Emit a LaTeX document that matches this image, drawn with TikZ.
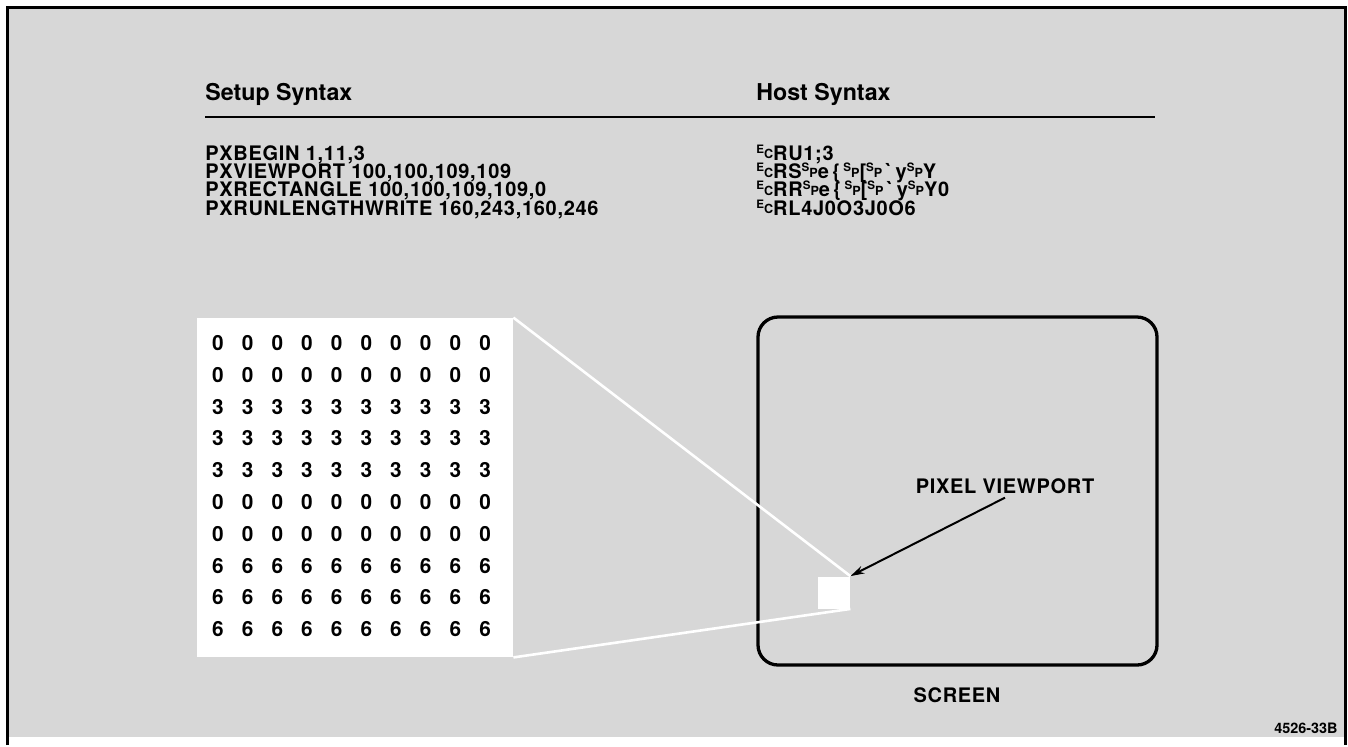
\documentclass[tikz,border=0pt]{standalone}
\usepackage{fontspec}
\setmainfont{TeX Gyre Heros}
\newfontfamily\codefont[LetterSpace=3.5]{TeX Gyre Heros}
\usetikzlibrary{arrows.meta}

\definecolor{bggrey}{RGB}{215,215,215}

% control characters written as small raised/lowered letter pairs
\newcommand{\ctl}[2]{\smash{\raisebox{3.5pt}{\fontsize{5.8}{6}\selectfont #1}\raisebox{0.6pt}{\fontsize{6.3}{6}\selectfont #2}}}

\tikzset{
  headtxt/.style={anchor=base west, inner sep=0pt, font=\fontsize{11.6}{12}\selectfont\bfseries},
  codetxt/.style={anchor=base west, inner sep=0pt, font=\codefont\fontsize{10}{10}\selectfont\bfseries},
  digit/.style={inner sep=0pt, font=\fontsize{10.4}{10}\selectfont\bfseries},
  mapbox/.style={fill=white, inner sep=0pt, minimum width=158pt, minimum height=169.5pt},
  zoomline/.style={white, line width=1.3pt},
  pointer/.style={line width=1pt, -{Stealth[length=7pt, width=4pt]}}
}

\begin{document}
\begin{tikzpicture}[x=0.5pt, y=-0.5pt]
	\fill[white] (0,0) rectangle (1348,737);
	\fill[bggrey] (7,7) rectangle (1345,737);
	\draw[line width=1.5pt] (7,745) -- (7,7) -- (1345,7) -- (1345,745);

	% headings
	\node[headtxt] (setuphead) at (205,100) {Setup Syntax};
	\node[headtxt] (hosthead) at (756,100) {Host Syntax};
	\draw[line width=1pt] (205,117) -- (1155,117);

	% setup syntax
	\node[codetxt] (setA) at (205,160) {PXBEGIN 1,11,3};
	\node[codetxt] (setB) at (205,178.3) {PXVIEWPORT 100,100,109,109};
	\node[codetxt] (setC) at (205,196.6) {PXRECTANGLE 100,100,109,109,0};
	\node[codetxt] (setD) at (205,215) {PXRUNLENGTHWRITE 160,243,160,246};

	% host syntax
	\node[codetxt] (hostA) at (756,160) {\ctl{E}{C}RU1;3};
	\node[codetxt] (hostB) at (756,178.3) {\ctl{E}{C}RS\ctl{S}{P}e\,\{\,\ctl{S}{P}[\ctl{S}{P}\,\textasciigrave\,y\ctl{S}{P}Y};
	\node[codetxt] (hostC) at (756,196.6) {\ctl{E}{C}RR\ctl{S}{P}e\,\{\,\ctl{S}{P}[\ctl{S}{P}\,\textasciigrave\,y\ctl{S}{P}Y0};
	\node[codetxt] (hostD) at (756,215) {\ctl{E}{C}RL4J0O3J0O6};

	% pixel map
	\node[mapbox] (pxmap) at (355,487.5) {};
	\foreach \v [count=\r] in {0,0,3,3,3,0,0,6,6,6}
	  \foreach \c in {0,...,9}
	    \node[digit] (d-\r-\c) at ({218+29.67*\c},{343+31.8*(\r-1)}) {\v};

	% screen
	\node[draw, line width=1.65pt, rounded corners=10pt, minimum width=199.5pt, minimum height=174pt] (screen) at (957.5,491) {};
	\node[codetxt, anchor=base] (scrlabel) at (957,702) {SCREEN};
	\node[fill=white, inner sep=0pt, minimum size=16pt] (vp) at (834,592.5) {};
	\node[codetxt, anchor=base, inner sep=2pt] (pvlabel) at (1005,493) {PIXEL VIEWPORT};
	\draw[pointer] (pvlabel.south) -- (vp.north east);

	\draw[zoomline] (pxmap.north east) -- (vp.north east);
	\draw[zoomline] (pxmap.south east) -- (vp.south east);

	\node[anchor=base east, inner sep=0pt, font=\fontsize{7.2}{8}\selectfont\bfseries] (figno) at (1338,733) {4526-33B};
\end{tikzpicture}
\end{document}
